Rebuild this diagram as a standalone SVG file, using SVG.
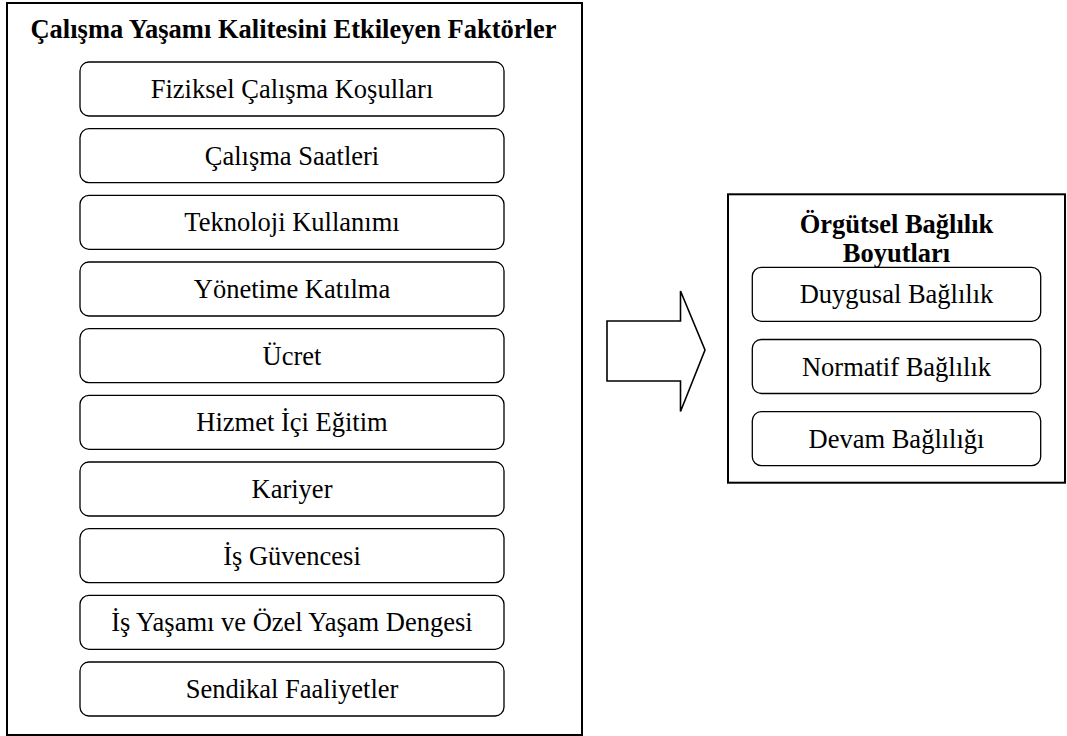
<svg xmlns="http://www.w3.org/2000/svg" width="1067" height="736" viewBox="0 0 1067 736">
<style>
text{font-family:'Times New Roman','Liberation Serif',Times,serif;font-size:26.5px;fill:#000;text-anchor:middle}
.title{font-weight:bold}
.frame{fill:#fff;stroke:#000;stroke-width:2}
.box{fill:#fff;stroke:#000;stroke-width:1.3}
.arrow{fill:#fff;stroke:#000;stroke-width:1.6;stroke-linejoin:miter}
</style>
<rect width="1067" height="736" fill="#fff"/>
<g id="factors">
<rect class="frame" x="7" y="3" width="575" height="732"/>
<text class="title" x="293.5" y="38">Çalışma Yaşamı Kalitesini Etkileyen Faktörler</text>
</g>
<g id="f1"><rect class="box" x="80" y="62" width="424" height="54" rx="9"/><text x="292" y="98">Fiziksel Çalışma Koşulları</text></g>
<g id="f2"><rect class="box" x="80" y="128.7" width="424" height="54" rx="9"/><text x="292" y="164.7">Çalışma Saatleri</text></g>
<g id="f3"><rect class="box" x="80" y="195.3" width="424" height="54" rx="9"/><text x="292" y="231.3">Teknoloji Kullanımı</text></g>
<g id="f4"><rect class="box" x="80" y="262" width="424" height="54" rx="9"/><text x="292" y="298">Yönetime Katılma</text></g>
<g id="f5"><rect class="box" x="80" y="328.7" width="424" height="54" rx="9"/><text x="292" y="364.7">Ücret</text></g>
<g id="f6"><rect class="box" x="80" y="395.3" width="424" height="54" rx="9"/><text x="292" y="431.3">Hizmet İçi Eğitim</text></g>
<g id="f7"><rect class="box" x="80" y="462" width="424" height="54" rx="9"/><text x="292" y="498">Kariyer</text></g>
<g id="f8"><rect class="box" x="80" y="528.7" width="424" height="54" rx="9"/><text x="292" y="564.7">İş Güvencesi</text></g>
<g id="f9"><rect class="box" x="80" y="595.3" width="424" height="54" rx="9"/><text x="292" y="631.3">İş Yaşamı ve Özel Yaşam Dengesi</text></g>
<g id="f10"><rect class="box" x="80" y="662" width="424" height="54" rx="9"/><text x="292" y="698">Sendikal Faaliyetler</text></g>
<g id="commitment">
<rect class="frame" x="728" y="194.3" width="337" height="288.4"/>
<text class="title" x="896.5" y="232.7">Örgütsel Bağlılık</text>
<text class="title" x="896.5" y="261.7">Boyutları</text>
</g>
<g id="c1"><rect class="box" x="752.3" y="267.3" width="288.4" height="54" rx="9"/><text x="896.5" y="303.3">Duygusal Bağlılık</text></g>
<g id="c2"><rect class="box" x="752.3" y="339.5" width="288.4" height="54" rx="9"/><text x="896.5" y="375.5">Normatif Bağlılık</text></g>
<g id="c3"><rect class="box" x="752.3" y="411.7" width="288.4" height="54" rx="9"/><text x="896.5" y="447.7">Devam Bağlılığı</text></g>
<g id="connectors">
<polygon class="arrow" points="607,321 680.5,321 680.5,291 705,350 680.5,411.5 680.5,381 607,381"/>
</g>
</svg>
